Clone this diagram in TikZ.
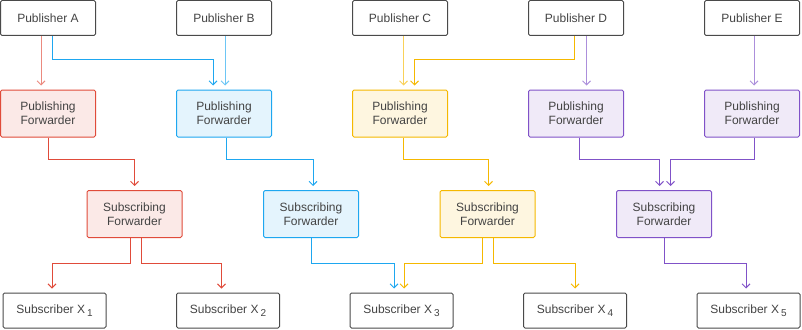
\documentclass[tikz,border=0pt]{standalone}
\usepackage{fontspec}
\setmainfont{Liberation Sans}
\usepackage{xcolor}
\usepackage{tikz}
\usetikzlibrary{arrows.meta,positioning}
\definecolor{ink}{HTML}{4A4A4A}
\definecolor{fred}{HTML}{E04B3A}
\definecolor{fblue}{HTML}{1EA7F0}
\definecolor{fyel}{HTML}{F5B800}
\definecolor{fpur}{HTML}{8052C8}
\newcommand{\lowidx}[1]{\,\raisebox{-2.5pt}{\fontsize{10}{10}\selectfont #1}}

\begin{document}
\begin{tikzpicture}[
    x=1pt,y=1pt,
    node distance=53.5pt and 80pt,
    box/.style={draw=ink,line width=1pt,rounded corners=1.5pt,align=center,inner sep=0pt,
      minimum width=95pt,minimum height=35pt,text=ink!90!black,font=\fontsize{12}{14}\selectfont},
    fwd/.style={box,minimum height=47pt,draw=#1,fill=#1!12},
    sub/.style={box,minimum width=103pt},
    arrow/.style={-{Straight Barb[length=4pt,width=8pt]},line width=1pt,shorten >=4pt}
  ]
    \useasboundingbox (0,0) rectangle (802,-329);
    % publishers
    \node[box] (pubA) at (48,-18) {Publisher A};
    \node[box,right=of pubA] (pubB) {Publisher B};
    \node[box,right=of pubB] (pubC) {Publisher C};
    \node[box,right=of pubC] (pubD) {Publisher D};
    \node[box,right=of pubD] (pubE) {Publisher E};
    % publishing forwarders
    \node[fwd=fred,below=of pubA] (pfA) {Publishing\\Forwarder};
    \node[fwd=fblue,below=of pubB] (pfB) {Publishing\\Forwarder};
    \node[fwd=fyel,below=of pubC] (pfC) {Publishing\\Forwarder};
    \node[fwd=fpur,below=of pubD] (pfD) {Publishing\\Forwarder};
    \node[fwd=fpur,below=of pubE] (pfE) {Publishing\\Forwarder};
    % subscribing forwarders
    \node[fwd=fred,below=52.5pt of pfA,xshift=86.5pt] (sfA) {Subscribing\\Forwarder};
    \node[fwd=fblue,right=80.5pt of sfA] (sfB) {Subscribing\\Forwarder};
    \node[fwd=fyel,right=80.5pt of sfB] (sfC) {Subscribing\\Forwarder};
    \node[fwd=fpur,right=80.5pt of sfC] (sfD) {Subscribing\\Forwarder};
    % subscribers
    \node[sub,below=54.5pt of sfA,xshift=-80pt] (subA) {Subscriber X\lowidx{1}};
    \node[sub,right=69.5pt of subA] (subB) {Subscriber X\lowidx{2}};
    \node[sub,right=69.5pt of subB] (subC) {Subscriber X\lowidx{3}};
    \node[sub,right=69.5pt of subC] (subD) {Subscriber X\lowidx{4}};
    \node[sub,right=69.5pt of subD] (subE) {Subscriber X\lowidx{5}};
    % publishers to publishing forwarders
    \draw[arrow,fred!65] ([xshift=-7pt]pubA.south) -- ([xshift=-7pt]pfA.north);
    \draw[arrow,fblue] ([xshift=4pt]pubA.south) -- ++(0,-23pt) -| ([xshift=-11pt]pfB.north);
    \draw[arrow,fblue!65] ([xshift=1pt]pubB.south) -- ([xshift=1pt]pfB.north);
    \draw[arrow,fyel!65] ([xshift=3.5pt]pubC.south) -- ([xshift=3.5pt]pfC.north);
    \draw[arrow,fyel] ([xshift=-1.5pt]pubD.south) -- ++(0,-23pt) -| ([xshift=14.5pt]pfC.north);
    \draw[arrow,fpur!65] ([xshift=10.5pt]pubD.south) -- ([xshift=10.5pt]pfD.north);
    \draw[arrow,fpur!65] ([xshift=2pt]pubE.south) -- ([xshift=2pt]pfE.north);
    % publishing to subscribing forwarders
    \draw[arrow,fred] (pfA.south) -- ++(0,-22pt) -| (sfA.north);
    \draw[arrow,fblue] ([xshift=2pt]pfB.south) -- ++(0,-22pt) -| ([xshift=2pt]sfB.north);
    \draw[arrow,fyel] ([xshift=3pt]pfC.south) -- ++(0,-22pt) -| ([xshift=1pt]sfC.north);
    \draw[arrow,fpur] ([xshift=3pt]pfD.south) -- ++(0,-22pt) -| ([xshift=-4.5pt]sfD.north);
    \draw[arrow,fpur] ([xshift=2pt]pfE.south) -- ++(0,-22pt) -| ([xshift=6.5pt]sfD.north);
    % subscribing forwarders to subscribers
    \draw[arrow,fred] ([xshift=-4.5pt]sfA.south) -- ++(0,-25pt) -| ([xshift=-2.5pt]subA.north);
    \draw[arrow,fred] ([xshift=6.5pt]sfA.south) -- ++(0,-25pt) -| ([xshift=-6.5pt]subB.north);
    \draw[arrow,fblue] (sfB.south) -- ++(0,-25pt) -| ([xshift=-7.5pt]subC.north);
    \draw[arrow,fyel] ([xshift=-5pt]sfC.south) -- ++(0,-25pt) -| ([xshift=2.5pt]subC.north);
    \draw[arrow,fyel] ([xshift=6pt]sfC.south) -- ++(0,-25pt) -| (subD.north);
    \draw[arrow,fpur] (sfD.south) -- ++(0,-25pt) -| ([xshift=-2.5pt]subE.north);
  \end{tikzpicture}
\end{document}
